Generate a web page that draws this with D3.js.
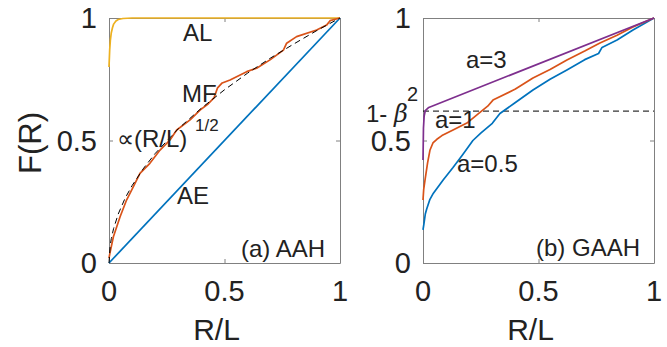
<!DOCTYPE html>
<html>
<head>
<meta charset="utf-8">
<script src="https://cdn.jsdelivr.net/npm/d3@7"></script>
<style>
    body { margin: 0; background: #fff; }
    text { font-family: 'Liberation Sans', Arial, sans-serif; fill: #222; }
</style>
</head>
<body>
<div id="wrapper"></div>
<script>
// ticks shared by both panels
const ticks = [0, 0.5, 1];
const tickLabels = ['0', '0.5', '1'];

// (a) AAH
const alX = [0, 0.003, 0.006, 0.01, 0.015, 0.02, 0.03, 0.04, 0.06, 0.1, 1];
const alY = [0.8, 0.87, 0.91, 0.94, 0.96, 0.975, 0.988, 0.994, 0.998, 1, 1];
const aeX = [0, 1];
const aeY = [0, 1];
const mfX = [0, 0.004, 0.019, 0.048, 0.076, 0.105, 0.134, 0.177, 0.221, 0.264, 0.293, 0.351, 0.394, 0.43, 0.455, 0.47, 0.49, 0.524, 0.596, 0.639, 0.697, 0.755, 0.769, 0.812, 0.899, 0.942, 0.957, 1];
const mfY = [0.02, 0.04, 0.107, 0.189, 0.257, 0.311, 0.366, 0.407, 0.461, 0.502, 0.543, 0.584, 0.624, 0.65, 0.675, 0.715, 0.735, 0.747, 0.781, 0.795, 0.829, 0.869, 0.897, 0.924, 0.951, 0.971, 0.989, 1];
const fitX = [0, 0.005, 0.01, 0.02, 0.04, 0.07, 0.1, 0.15, 0.2, 0.3, 0.4, 0.5, 0.6, 0.7, 0.8, 0.9, 1];
const fitY = [0, 0.071, 0.1, 0.141, 0.2, 0.265, 0.316, 0.387, 0.447, 0.548, 0.632, 0.707, 0.775, 0.837, 0.894, 0.949, 1];

// (b) GAAH
const a3X = [0, 0.002, 0.005, 0.01, 0.025, 1];
const a3Y = [0.42, 0.55, 0.6, 0.622, 0.635, 1];
const a1X = [0, 0.003, 0.009, 0.02, 0.03, 0.043, 0.06, 0.082, 0.13, 0.19, 0.24, 0.28, 0.303, 0.4, 0.476, 0.55, 0.623, 0.7, 0.766, 0.84, 0.909, 1];
const a1Y = [0.257, 0.3, 0.34, 0.41, 0.46, 0.49, 0.505, 0.52, 0.543, 0.571, 0.61, 0.64, 0.665, 0.71, 0.755, 0.79, 0.829, 0.865, 0.898, 0.93, 0.963, 1];
const a05X = [0, 0.004, 0.01, 0.016, 0.03, 0.045, 0.088, 0.13, 0.17, 0.216, 0.25, 0.3, 0.333, 0.4, 0.476, 0.55, 0.623, 0.7, 0.76, 0.775, 0.84, 0.909, 1];
const a05Y = [0.135, 0.16, 0.2, 0.22, 0.26, 0.285, 0.34, 0.39, 0.44, 0.5, 0.53, 0.57, 0.61, 0.655, 0.706, 0.75, 0.788, 0.83, 0.855, 0.88, 0.91, 0.951, 1];
const betaLevel = 0.62;

const blue = '#0072BD', orange = '#D95319', yellow = '#EDB120', purple = '#7E2F8E';

let svg = d3.select('#wrapper').append('svg')
    .attr('width', 667)
    .attr('height', 347);

let yTop = 18, yBottom = 263;
let y = d3.scaleLinear().domain([0, 1]).range([yBottom, yTop]);

function zip(xs, ys) { return xs.map(function (d, i) { return [d, ys[i]]; }); }

function panel(left, right) {
    let x = d3.scaleLinear().domain([0, 1]).range([left, right]);
    let g = svg.append('g');

    // box and inward ticks
    g.append('g').attr('transform', 'translate(0,' + yBottom + ')')
        .call(d3.axisTop(x).tickValues(ticks).tickSize(4).tickSizeOuter(0).tickFormat(''));
    g.append('g').attr('transform', 'translate(0,' + yTop + ')')
        .call(d3.axisBottom(x).tickValues(ticks).tickSize(4).tickSizeOuter(0).tickFormat(''));
    g.append('g').attr('transform', 'translate(' + left + ',0)')
        .call(d3.axisRight(y).tickValues(ticks).tickSize(4).tickSizeOuter(0).tickFormat(''));
    g.append('g').attr('transform', 'translate(' + right + ',0)')
        .call(d3.axisLeft(y).tickValues(ticks).tickSize(4).tickSizeOuter(0).tickFormat(''));
    g.selectAll('.domain, .tick line').attr('stroke', '#808080').attr('stroke-width', 1);

    // tick labels
    g.selectAll('.xl').data(ticks).enter().append('text')
        .attr('x', function (d) { return x(d); })
        .attr('y', yBottom + 38)
        .attr('text-anchor', 'middle')
        .style('font-size', '29px')
        .text(function (d, i) { return tickLabels[i]; });
    g.selectAll('.yl').data(ticks).enter().append('text')
        .attr('x', left - 12)
        .attr('y', function (d) { return y(d) + 10; })
        .attr('text-anchor', 'end')
        .style('font-size', '29px')
        .text(function (d, i) { return tickLabels[i]; });

    g.append('text')
        .attr('x', (left + right) / 2 - 8)
        .attr('y', 340)
        .attr('text-anchor', 'middle')
        .style('font-size', '30px')
        .text('R/L');

    return { g: g, x: x };
}

function curve(p, xs, ys, color, width, dash) {
    let line = d3.line()
        .x(function (d) { return p.x(d[0]); })
        .y(function (d) { return y(d[1]); });
    p.g.append('path')
        .datum(zip(xs, ys))
        .attr('d', line)
        .attr('fill', 'none')
        .attr('stroke', color)
        .attr('stroke-width', width)
        .attr('stroke-dasharray', dash || null)
        .attr('stroke-linejoin', 'round');
}

function label(p, px, py, txt, size, anchor) {
    return p.g.append('text')
        .attr('x', px).attr('y', py)
        .attr('text-anchor', anchor || 'start')
        .style('font-size', size + 'px')
        .text(txt);
}

// ---- panel (a)
let pa = panel(109, 340);
curve(pa, aeX, aeY, blue, 1.7);
curve(pa, alX, alY, yellow, 1.7);
curve(pa, mfX, mfY, orange, 1.7);
curve(pa, fitX, fitY, '#000', 1, '6,4');

label(pa, 183, 41, 'AL', 24);
label(pa, 182, 102, 'MF', 24);
label(pa, 177, 204, 'AE', 24);
label(pa, 117, 147, '\u221D(R/L)', 24);
label(pa, 195, 131, '1/2', 17);
label(pa, 325, 257, '(a) AAH', 24, 'end');

svg.append('text')
    .attr('transform', 'translate(41,143) rotate(-90)')
    .attr('text-anchor', 'middle')
    .style('font-size', '31px')
    .text('F(R)');

// ---- panel (b)
let pb = panel(423, 654);
pb.g.append('line')
    .attr('x1', pb.x(0)).attr('x2', pb.x(1))
    .attr('y1', y(betaLevel)).attr('y2', y(betaLevel))
    .attr('stroke', '#000').attr('stroke-width', 1)
    .attr('stroke-dasharray', '6,4');
curve(pb, a05X, a05Y, blue, 1.7);
curve(pb, a1X, a1Y, orange, 1.7);
curve(pb, a3X, a3Y, purple, 1.7);

label(pb, 466, 68, 'a=3', 24);
label(pb, 435, 128, 'a=1', 24);
label(pb, 457, 172, 'a=0.5', 24);
label(pb, 640, 256, '(b) GAAH', 24, 'end');

let beta = label(pb, 366, 122, '', 24);
beta.append('tspan').text('1- ');
beta.append('tspan').style('font-family', "'DejaVu Serif', serif").style('font-style', 'italic').text('\u03B2');
label(pb, 407, 101, '2', 20);
</script>
</body>
</html>
